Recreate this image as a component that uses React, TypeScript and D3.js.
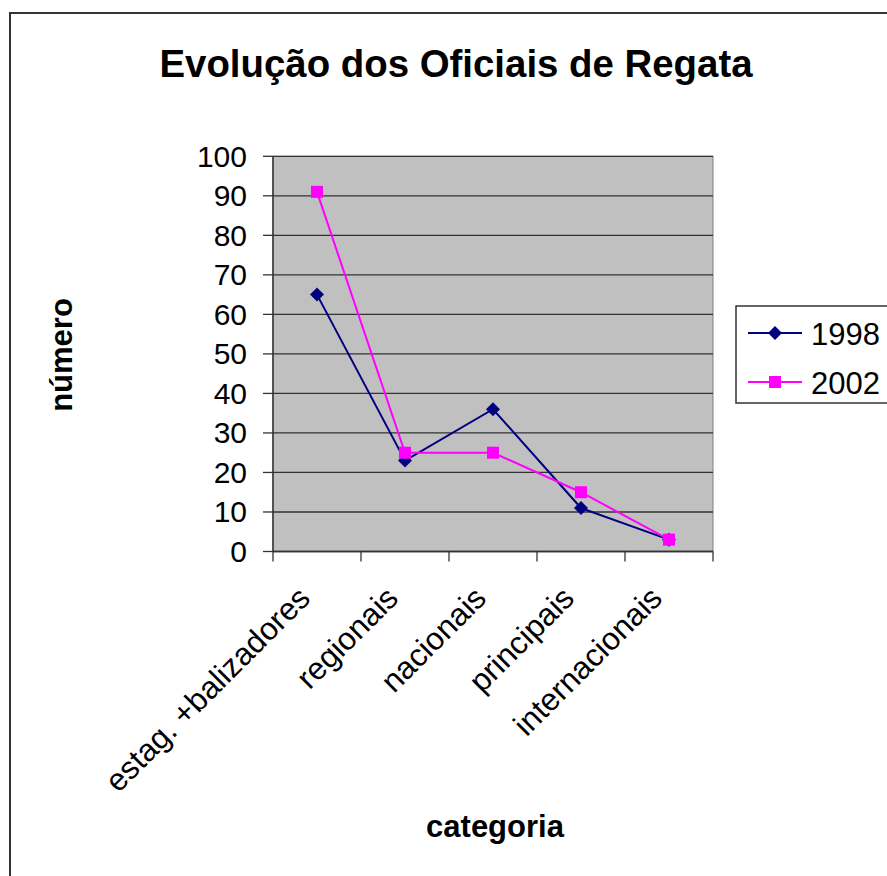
import React from "react";
import * as d3 from "d3";

const categories = ["estag. +balizadores", "regionais", "nacionais", "principais", "internacionais"];
const series1998 = [65, 23, 36, 11, 3];
const series2002 = [91, 25, 25, 15, 3];
const yTicks = [0, 10, 20, 30, 40, 50, 60, 70, 80, 90, 100];
const seriesNames = ["1998", "2002"];

const W = 887;
const H = 876;
const FONT = "'Liberation Sans', Arial, sans-serif";

export default function App() {
  const left = 273, right = 713, top = 156.3, bottom = 551.5;
  const x = d3.scaleBand<string>().domain(categories).range([left, right]);
  const y = d3.scaleLinear().domain([0, 100]).range([bottom, top]);
  const cx = (c: string) => (x(c) as number) + x.bandwidth() / 2;
  const line = d3
    .line<number>()
    .x((_, i) => cx(categories[i]))
    .y((d) => y(d));
  const boundaries = [...categories.map((c) => x(c) as number), right];
  const diamond = (px: number, py: number, r: number) =>
    `M${px},${py - r}L${px + r},${py}L${px},${py + r}L${px - r},${py}Z`;
  const navy = "#000080";
  const magenta = "#FF00FF";

  return (
    <svg
      width={W}
      height={H}
      style={{ position: "absolute", left: 0, top: 0, background: "#fff" }}
      fontFamily={FONT}
    >
      <rect x={10} y={13} width={900} height={900} fill="#fff" stroke="#333" strokeWidth={2} />
      <text x={456} y={77} textAnchor="middle" fontSize={38.4} fontWeight="bold" fill="#000">
        Evolução dos Oficiais de Regata
      </text>

      {/* plot area */}
      <rect x={left} y={top} width={right - left} height={bottom - top} fill="#C0C0C0" stroke="#808080" strokeWidth={1} />
      {yTicks.map((t) => (
        <g key={t}>
          <line x1={left} x2={right} y1={y(t)} y2={y(t)} stroke="#333" strokeWidth={1.3} />
          <line x1={left - 10} x2={left} y1={y(t)} y2={y(t)} stroke="#333" strokeWidth={1.3} />
          <text x={247} y={y(t) + 10.5} textAnchor="end" fontSize={30} fill="#000">
            {t}
          </text>
        </g>
      ))}
      <line x1={left} x2={left} y1={top} y2={bottom} stroke="#333" strokeWidth={1.5} />
      <line x1={left} x2={right} y1={bottom} y2={bottom} stroke="#333" strokeWidth={1.5} />
      {boundaries.map((b, i) => (
        <line key={i} x1={b} x2={b} y1={bottom} y2={bottom + 10} stroke="#333" strokeWidth={1.3} />
      ))}

      {categories.map((c) => (
        <text
          key={c}
          transform={`translate(${cx(c) - 5},${600}) rotate(-45)`}
          textAnchor="end"
          fontSize={31.5}
          fill="#000"
        >
          {c}
        </text>
      ))}

      {/* series 1998 */}
      <path d={line(series1998) || ""} fill="none" stroke={navy} strokeWidth={2} />
      {series1998.map((v, i) => (
        <path key={i} d={diamond(cx(categories[i]), y(v), 7)} fill={navy} />
      ))}
      {/* series 2002 */}
      <path d={line(series2002) || ""} fill="none" stroke={magenta} strokeWidth={2} />
      {series2002.map((v, i) => (
        <rect key={i} x={cx(categories[i]) - 6} y={y(v) - 6} width={12} height={12} fill={magenta} />
      ))}

      {/* axis titles */}
      <text transform="translate(72,355) rotate(-90)" textAnchor="middle" fontSize={31} fontWeight="bold" fill="#000">
        número
      </text>
      <text x={495} y={837} textAnchor="middle" fontSize={31} fontWeight="bold" fill="#000">
        categoria
      </text>

      {/* legend */}
      <rect x={736} y={306} width={170} height={97} fill="#fff" stroke="#333" strokeWidth={1.5} />
      {seriesNames.map((n, i) => {
        const ly = 333 + i * 49;
        const col = i === 0 ? navy : magenta;
        return (
          <g key={n}>
            <line x1={748} x2={802} y1={ly} y2={ly} stroke={col} strokeWidth={2} />
            {i === 0 ? (
              <path d={diamond(775, ly, 7)} fill={col} />
            ) : (
              <rect x={775 - 6} y={ly - 6} width={12} height={12} fill={col} />
            )}
            <text x={811} y={ly + 11.5} fontSize={31} fill="#000">
              {n}
            </text>
          </g>
        );
      })}
    </svg>
  );
}
